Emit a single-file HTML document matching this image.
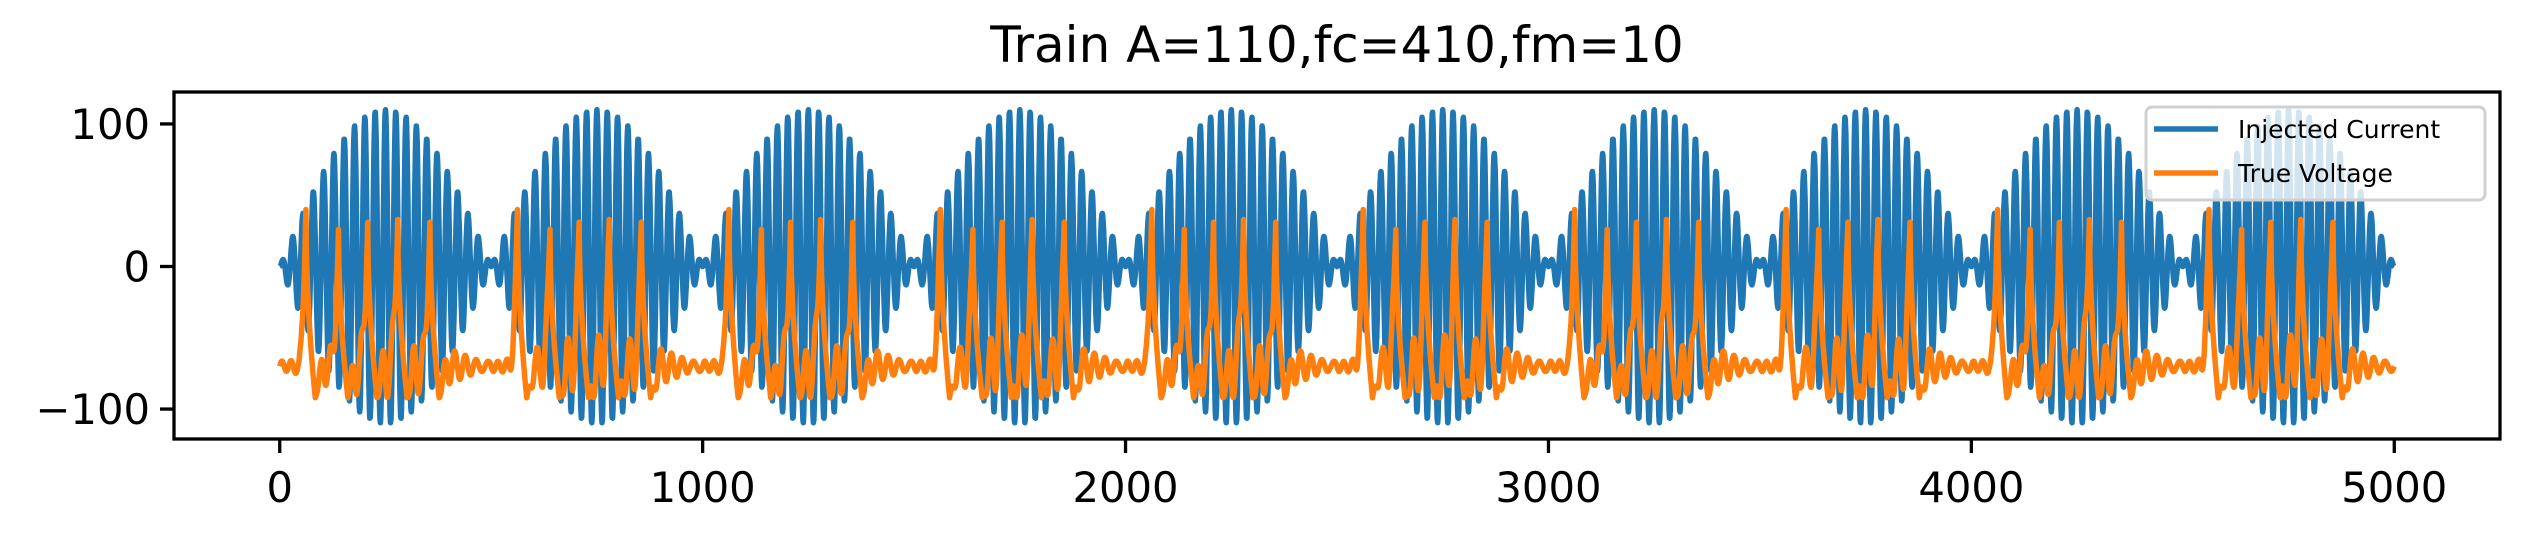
<!DOCTYPE html>
<html><head><meta charset="utf-8"><style>
body{margin:0;background:#fff;}
svg text{font-family:"DejaVu Sans","Liberation Sans",sans-serif;}
</style></head><body>
<svg width="2528" height="540" viewBox="0 0 2528 540" xmlns="http://www.w3.org/2000/svg">
<rect width="2528" height="540" fill="#fff"/>
<text x="1337" y="62" font-size="50" text-anchor="middle">Train A=110,fc=410,fm=10</text>
<defs><clipPath id="plotclip"><rect x="174" y="92" width="2326" height="347"/></clipPath></defs>
<g id="series" clip-path="url(#plotclip)"></g>
<g id="axes"></g>
<rect x="174" y="92" width="2326" height="347" fill="none" stroke="#000" stroke-width="3.3"/>
<g>
<rect x="2146" y="107" width="339" height="93" rx="6" fill="#fff" fill-opacity="0.8" stroke="#d0d0d0" stroke-width="3"/>
<line x1="2154" y1="129" x2="2218" y2="129" stroke="#1f77b4" stroke-width="5.5"/>
<text x="2238" y="138" font-size="25">Injected Current</text>
<line x1="2154" y1="173" x2="2218" y2="173" stroke="#ff7f0e" stroke-width="5.5"/>
<text x="2238" y="182" font-size="25">True Voltage</text>
</g>
</svg>
<script>
// Parameters read from title
const amplitude = [110];
const carrierFreq = [410];
const modFreq = [10];
const sampleCount = [5000];
// Spike times in the first burst (repeats each 500 samples), and peak voltages
const spikeOffsets = [62, 139, 208, 279, 355];
const spikePeaks = [40, 26, 31, 33, 31];
const burstStarts = [0, 500, 1000, 1500, 2000, 2500, 3000, 3500, 4000, 4500];
const xTicks = [0, 1000, 2000, 3000, 4000, 5000];
const yTicks = [100, 0, -100];
const yTickLabels = ["100", "0", "\u2212100"];

const X0=174, X1=2500, Y0=92, Y1=439;
const xmin=-250, xmax=5250, ymin=-121, ymax=122.4;
const sx = v => X0 + (v - xmin) / (xmax - xmin) * (X1 - X0);
const sy = v => Y1 - (v - ymin) / (ymax - ymin) * (Y1 - Y0);
const NS='http://www.w3.org/2000/svg';
const series=document.getElementById('series');
const axes=document.getElementById('axes');

const dt = 1e-4;
function current(t){ return amplitude[0]*Math.sin(2*Math.PI*modFreq[0]*t*dt)*Math.sin(2*Math.PI*carrierFreq[0]*t*dt); }
const spikes=[];
burstStarts.forEach(b=>spikeOffsets.forEach((o,i)=>spikes.push([b+o, spikePeaks[i]])));
function voltage(t){
  const env=Math.abs(Math.sin(2*Math.PI*modFreq[0]*t*dt));
  let v = -70 - 22*env*Math.sin(2*Math.PI*carrierFreq[0]*t*dt - 1.2) + 4*(1-env)*Math.sin(2*Math.PI*carrierFreq[0]*t*dt);
  for(const [ts,p] of spikes){
    const d=t-ts;
    if(d>=-18 && d<0){ const f=(1+d/18); v = v + (p-v)*f*f; }
    else if(d>=0 && d<22){ const f=d/22; v = p + (-92-p)*Math.sqrt(f); }
    else if(d>=22 && d<40){ v = -92 + (v+92)*((d-22)/18); }
  }
  return v;
}
function buildPath(fn){
  let d='';
  for(let t=0;t<=sampleCount[0];t++){ d+=(t?'L':'M')+sx(t).toFixed(1)+' '+sy(fn(t)).toFixed(1); }
  return d;
}
const pc=document.createElementNS(NS,'path');
pc.setAttribute('d',buildPath(current));
pc.setAttribute('fill','none');pc.setAttribute('stroke','#1f77b4');pc.setAttribute('stroke-width','5.5');pc.setAttribute('stroke-linejoin','round');


series.appendChild(pc);
const pv=document.createElementNS(NS,'path');
pv.setAttribute('d',buildPath(voltage));
pv.setAttribute('fill','none');pv.setAttribute('stroke','#ff7f0e');pv.setAttribute('stroke-width','5.5');pv.setAttribute('stroke-linejoin','round');


series.appendChild(pv);

xTicks.forEach(v=>{
  const l=document.createElementNS(NS,'line');
  l.setAttribute('x1',sx(v));l.setAttribute('x2',sx(v));l.setAttribute('y1',Y1);l.setAttribute('y2',Y1+14);
  l.setAttribute('stroke','#000');l.setAttribute('stroke-width','3.3');
  
  
  axes.appendChild(l);
  const tx=document.createElementNS(NS,'text');
  tx.setAttribute('x',sx(v));tx.setAttribute('y',Y1+63);tx.setAttribute('font-size','41.7');tx.setAttribute('text-anchor','middle');
  tx.textContent=String(v);
  
  
  axes.appendChild(tx);
});
yTicks.forEach((v,i)=>{
  const l=document.createElementNS(NS,'line');
  l.setAttribute('x1',X0-14);l.setAttribute('x2',X0);l.setAttribute('y1',sy(v));l.setAttribute('y2',sy(v));
  l.setAttribute('stroke','#000');l.setAttribute('stroke-width','3.3');
  
  
  axes.appendChild(l);
  const tx=document.createElementNS(NS,'text');
  tx.setAttribute('x',X0-24);tx.setAttribute('y',sy(v)+15);tx.setAttribute('font-size','41.7');tx.setAttribute('text-anchor','end');
  tx.textContent=yTickLabels[i];
  
  
  axes.appendChild(tx);
});
</script>
</body></html>
